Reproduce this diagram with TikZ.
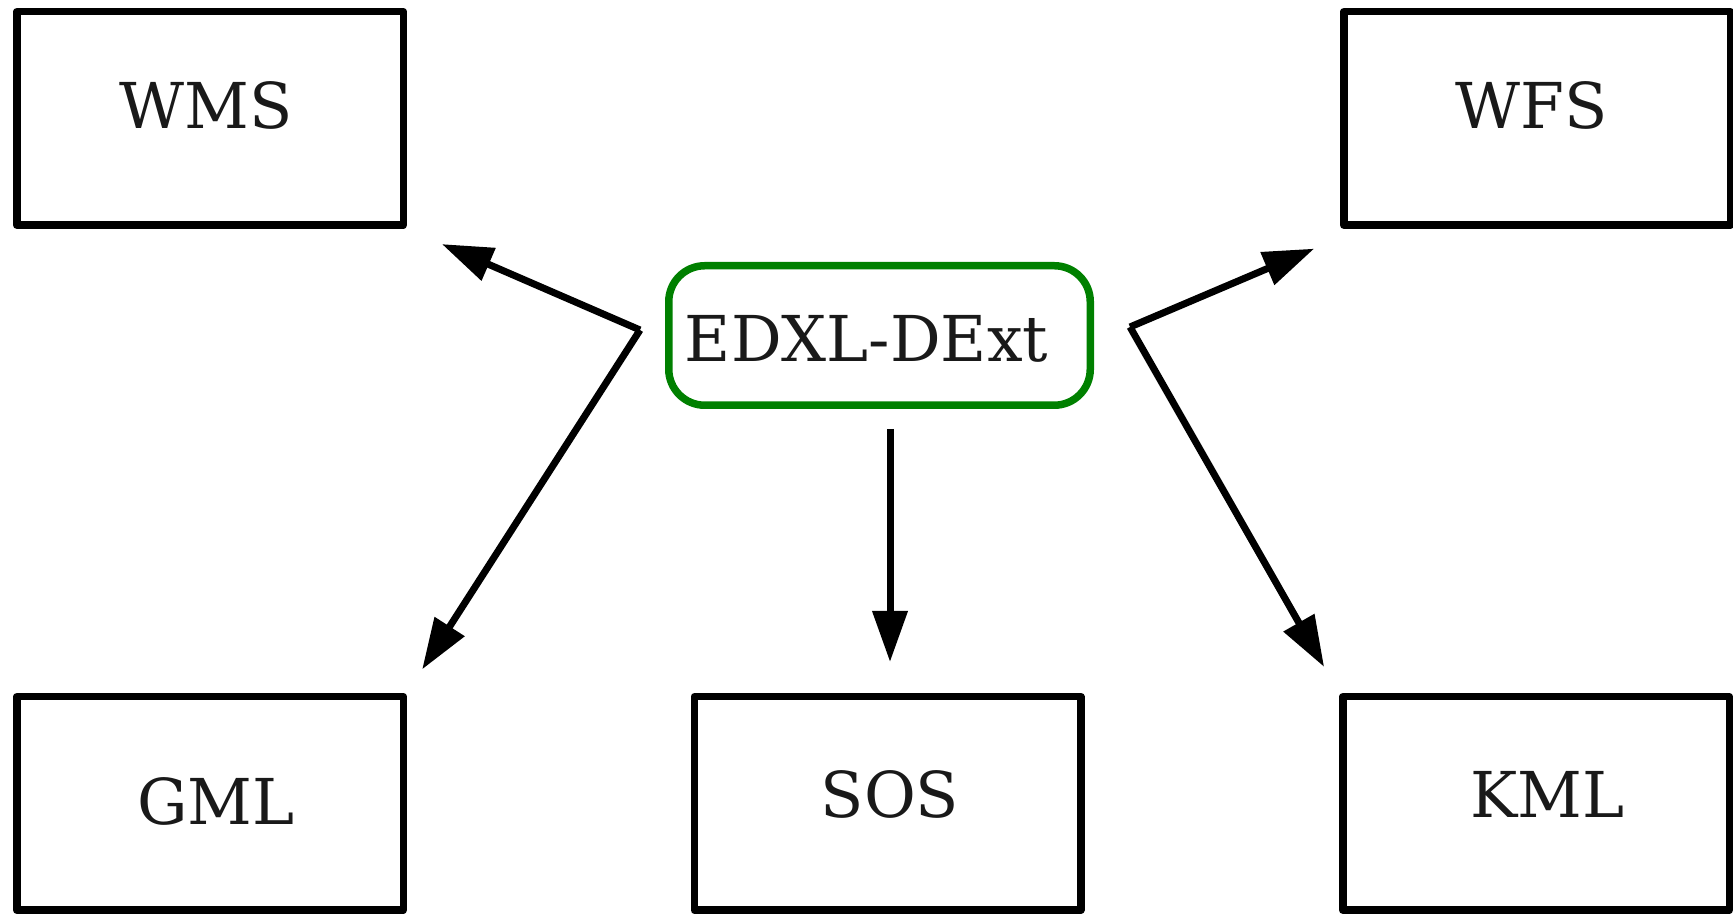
\documentclass[tikz,border=0pt]{standalone}
\usepackage{fontspec}
\setmainfont{DejaVu Serif}
\usepackage{tikz}
\usetikzlibrary{arrows.meta,calc}
\definecolor{edxlgreen}{RGB}{0,128,0}

\begin{document}
\begin{tikzpicture}[>={Triangle[length=5.1mm,width=3.4mm]},
  box/.style={rectangle,draw=black,line width=0.075cm,line join=round,
    minimum width=3.865cm,minimum height=2.135cm,inner sep=0pt},
  lbl/.style={inner sep=0pt,text=black!90,font=\fontsize{18}{22}\selectfont}]
\useasboundingbox (0,0) rectangle (17.33,9.16);

\node [box,name=wms] at (2.10,7.975) {};
\node [box,name=wfs] at (15.37,7.975) {};
\node [box,name=gml] at (2.10,1.125) {};
\node [box,name=sos] at (8.875,1.125) {};
\node [box,name=kml] at (15.36,1.125) {};
\node [rectangle,rounded corners=0.36cm,draw=edxlgreen,line width=0.075cm,
  minimum width=4.215cm,minimum height=1.395cm,name=edxl] at (8.795,5.805) {};

\node [lbl,name=wmstext] at (2.06,8.105) {WMS};
\node [lbl,name=wfstext] at (15.32,8.105) {WFS};
\node [lbl,name=gmltext] at (2.16,1.15) {GML};
\node [lbl,name=sostext] at (8.90,1.22) {SOS};
\node [lbl,name=kmltext] at (15.47,1.22) {KML};
\node [lbl,name=edxltext] at (8.665,5.775) {EDXL-DExt};

\begin{scope}[line width=0.07cm]
  \coordinate (jl) at (6.40,5.86);
  \coordinate (jr) at (11.30,5.89);
  \coordinate (jd) at (8.90,4.87);

  \draw [->,shorten >=0.38cm] (jl) -- (wms.south east);
  \draw [->,shorten >=0.28cm] (jl) -- (gml.north east);
  \draw [->,shorten >=0.31cm] (jd) -- (jd |- sos.north);
  \draw [->,shorten >=0.28cm] (jr) -- ($(wfs.south west)+(0,-0.087)$);
  \draw [->,shorten >=0.30cm] (jr) -- (kml.north west);
\end{scope}
\end{tikzpicture}
\end{document}
